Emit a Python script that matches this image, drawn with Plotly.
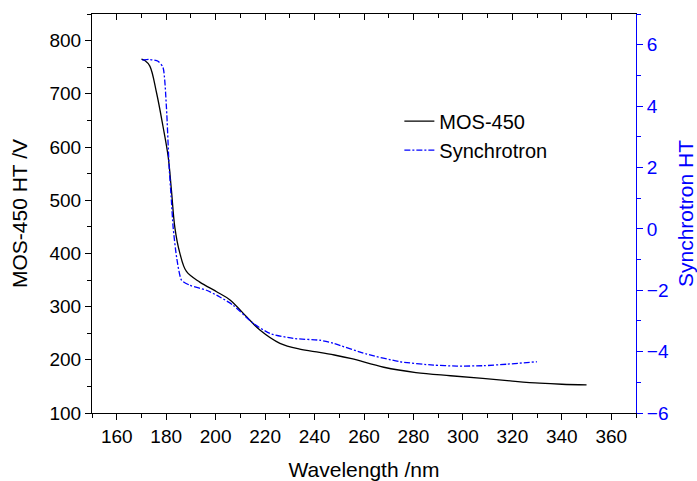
import plotly.graph_objects as go

# MOS-450 (left axis)
mos_x = [170, 171.5, 173.4, 176.1, 178.7, 180.8, 182.1, 183.5, 185.5, 188.2, 193.6, 200.4,
         205.7, 212.5, 217.9, 226, 234, 242, 248, 255, 268, 281, 295, 308, 320, 331, 340, 350]
mos_y = [765, 762, 752, 702, 639, 582, 520, 449, 401, 366, 346, 328,
         313, 281, 256, 231, 220, 214, 209, 202, 186, 176, 170, 165, 160, 156, 154, 153]

# Synchrotron (right axis)
syn_x = [170.4, 173, 176.7, 178.7, 180.1, 181.2, 182.1, 182.8, 184.2, 186.2, 189.6, 196.3,
         201.7, 207.1, 215.2, 222, 231.4, 242.2, 247.6, 261.1, 274.6, 288.1, 297.5, 308.3,
         317.8, 329.9]
syn_y = [5.50, 5.52, 5.46, 5.26, 3.96, 2.01, 0.93, 0.06, -0.92, -1.67, -1.84, -2.0,
         -2.22, -2.49, -3.08, -3.41, -3.57, -3.63, -3.73, -4.08, -4.33, -4.44, -4.47, -4.46,
         -4.41, -4.33]

FONT = "Liberation Sans, Arial, sans-serif"

fig = go.Figure()
fig.add_trace(go.Scatter(x=mos_x, y=mos_y, name="MOS-450", mode="lines",
                         line=dict(color="black", width=1.3, shape="spline", smoothing=1.0)))
fig.add_trace(go.Scatter(x=syn_x, y=syn_y, name="Synchrotron", mode="lines", yaxis="y2",
                         line=dict(color="#0000FF", width=1.3, dash="6px,2px,2px,2px",
                                   shape="spline", smoothing=0.6)))
# helper trace for top mirror axis
fig.add_trace(go.Scatter(x=[150], y=[100], xaxis="x2", mode="markers",
                         marker=dict(opacity=0), showlegend=False, hoverinfo="skip"))

fig.update_layout(
    width=697, height=481,
    margin=dict(l=92, r=61, t=14, b=68),
    paper_bgcolor="white", plot_bgcolor="white",
    font=dict(family=FONT, size=19, color="black"),
    showlegend=True,
    legend=dict(x=0.565, y=0.695, xanchor="left", yanchor="middle",
                bgcolor="rgba(0,0,0,0)", font=dict(size=20)),
    xaxis=dict(range=[150, 370], showgrid=False, zeroline=False, showline=True, automargin=False,
               linecolor="black", linewidth=1, ticks="outside", ticklen=6, tickwidth=1,
               tickcolor="black", tick0=160, dtick=20,
               minor=dict(ticks="outside", ticklen=4, dtick=10, tick0=150, tickcolor="black"),
               title=dict(text="Wavelength /nm", font=dict(size=21), standoff=22)),
    xaxis2=dict(range=[150, 370], overlaying="x", side="top", showgrid=False, zeroline=False,
                showline=True, linecolor="black", linewidth=1, ticks="inside", ticklen=6,
                tickcolor="black", tick0=160, dtick=20, showticklabels=False, automargin=False,
                minor=dict(ticks="inside", ticklen=4, dtick=10, tick0=150, tickcolor="black")),
    yaxis=dict(range=[100, 850], showgrid=False, zeroline=False, showline=True, automargin=False,
               linecolor="black", linewidth=1, ticks="outside", ticklen=6, tickwidth=1,
               tickcolor="black", tick0=100, dtick=100,
               minor=dict(ticks="outside", ticklen=4, dtick=50, tick0=100, tickcolor="black"),
               title=dict(text="MOS-450 HT /V", font=dict(size=21), standoff=16)),
    yaxis2=dict(range=[-6, 7], overlaying="y", side="right", showgrid=False, zeroline=False,
                showline=True, linecolor="#0000FF", linewidth=1, ticks="outside", ticklen=6,
                tickcolor="#0000FF", tick0=-6, dtick=2, automargin=False,
                tickfont=dict(color="#0000FF"),
                minor=dict(ticks="outside", ticklen=4, dtick=1, tick0=-6, tickcolor="#0000FF"),
                title=dict(text="Synchrotron HT", font=dict(size=21, color="#0000FF"), standoff=16)),
)

fig.write_html("out.html")
